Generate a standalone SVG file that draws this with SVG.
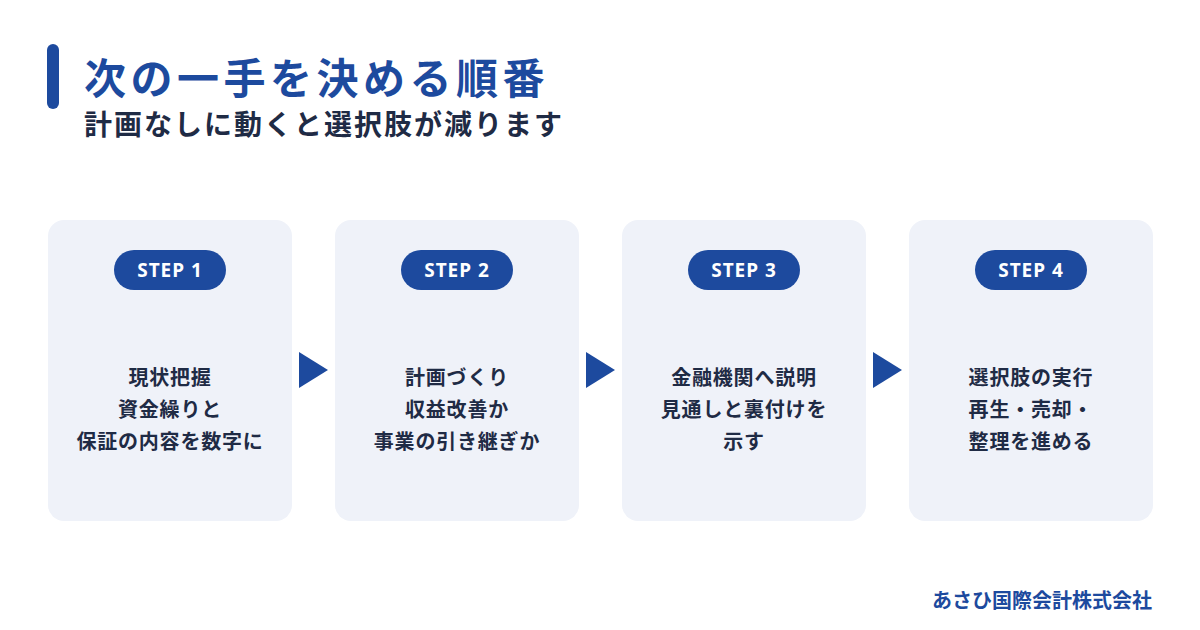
<svg xmlns="http://www.w3.org/2000/svg" width="1200" height="630" viewBox="0 0 1200 630">
<style>
.jp{font-family:"Noto Sans CJK JP","Noto Sans",sans-serif}
.card{fill:#eff2f9}
.pill{fill:#1d4a9e}
.step{font-family:"Noto Sans","Open Sans",sans-serif;font-weight:700;font-size:19px;letter-spacing:1px;fill:#ffffff;text-anchor:middle}
.body{font-family:"Noto Sans CJK JP",sans-serif;font-weight:700;font-size:20px;letter-spacing:0.8px;fill:#1f2b45;text-anchor:middle}
.arrow{fill:#1d4a9e}
</style>
<rect width="1200" height="630" fill="#ffffff"/>
<g id="title">
<rect x="47" y="44" width="12" height="65" rx="6" fill="#1d4a9e"/>
<text x="84" y="94" class="jp" font-size="42" font-weight="700" fill="#1d4a9e" letter-spacing="4.5">次の一手を決める順番</text>
<text x="84" y="135" class="jp" font-size="28" font-weight="700" fill="#1f2b45" letter-spacing="2">計画なしに動くと選択肢が減ります</text>
</g>
<g id="step1">
<rect class="card" x="48" y="220" width="244" height="301" rx="16"/>
<rect class="pill" x="114" y="250" width="112" height="40" rx="20"/>
<text class="step" x="170" y="277">STEP 1</text>
<text class="body" x="170" y="385">現状把握</text>
<text class="body" x="170" y="417">資金繰りと</text>
<text class="body" x="170" y="449">保証の内容を数字に</text>
</g>
<g id="step2">
<rect class="card" x="335" y="220" width="244" height="301" rx="16"/>
<rect class="pill" x="401" y="250" width="112" height="40" rx="20"/>
<text class="step" x="457" y="277">STEP 2</text>
<text class="body" x="457" y="385">計画づくり</text>
<text class="body" x="457" y="417">収益改善か</text>
<text class="body" x="457" y="449">事業の引き継ぎか</text>
</g>
<g id="step3">
<rect class="card" x="622" y="220" width="244" height="301" rx="16"/>
<rect class="pill" x="688" y="250" width="112" height="40" rx="20"/>
<text class="step" x="744" y="277">STEP 3</text>
<text class="body" x="744" y="385">金融機関へ説明</text>
<text class="body" x="744" y="417">見通しと裏付けを</text>
<text class="body" x="744" y="449">示す</text>
</g>
<g id="step4">
<rect class="card" x="909" y="220" width="244" height="301" rx="16"/>
<rect class="pill" x="975" y="250" width="112" height="40" rx="20"/>
<text class="step" x="1031" y="277">STEP 4</text>
<text class="body" x="1031" y="385">選択肢の実行</text>
<text class="body" x="1031" y="417">再生・売却・</text>
<text class="body" x="1031" y="449">整理を進める</text>
</g>
<g id="connectors">
<polygon class="arrow" points="299,352 328,370 299,388"/>
<polygon class="arrow" points="586,352 615,370 586,388"/>
<polygon class="arrow" points="873,352 902,370 873,388"/>
</g>
<g id="footer">
<text x="1152" y="608" class="jp" font-size="20" font-weight="700" fill="#1d4a9e" text-anchor="end">あさひ国際会計株式会社</text>
</g>
</svg>
